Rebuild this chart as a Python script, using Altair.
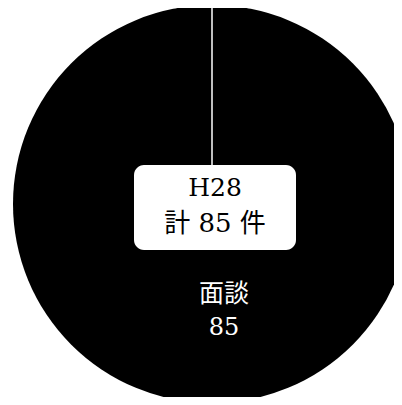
import altair as alt
import pandas as pd

# data
categories = ["面談"]
values = [85]
year_label = "H28"
total_label = "計 85 件"

W, H = 386, 389
CX, CY, R = 204, 196, 199

df = pd.DataFrame({"cat": categories, "val": values})
df["label"] = df["cat"]
df["valtxt"] = df["val"].astype(str)

font = "DejaVu Serif, Noto Sans CJK JP"

pie = alt.Chart(df).mark_arc(outerRadius=R, color="black", stroke=None).encode(
    theta=alt.Theta("val:Q", stack=True),
    x=alt.value(CX), y=alt.value(CY),
)

line = alt.Chart(df).mark_rule(color="white", strokeWidth=1.5).encode(
    x=alt.value(CX), y=alt.value(CY - R), y2=alt.value(CY)
)

box = alt.Chart(df).mark_rect(color="white", cornerRadius=10).encode(
    x=alt.value(126), x2=alt.value(288), y=alt.value(157), y2=alt.value(242)
)

t1 = alt.Chart(pd.DataFrame({"t": [year_label]})).mark_text(
    font=font, fontSize=25, color="black", baseline="middle", align="center"
).encode(text="t:N", x=alt.value(207), y=alt.value(180))

t2 = alt.Chart(pd.DataFrame({"t": [total_label]})).mark_text(
    font=font, fontSize=26, color="black", baseline="middle", align="center"
).encode(text="t:N", x=alt.value(207), y=alt.value(216))

lab = alt.Chart(df).mark_text(
    font=font, fontSize=25, color="white", baseline="middle", align="center"
).encode(text="label:N", x=alt.value(216), y=alt.value(286))

val = alt.Chart(df).mark_text(
    font=font, fontSize=24, color="white", baseline="middle", align="center"
).encode(text="valtxt:N", x=alt.value(216), y=alt.value(320))

chart = alt.layer(pie, line, box, t1, t2, lab, val).properties(
    width=W, height=H, autosize=alt.AutoSizeParams(type="none"), padding=0
).configure_view(stroke=None)

chart.save("out.html", embed_options={"renderer": "svg", "actions": False})
